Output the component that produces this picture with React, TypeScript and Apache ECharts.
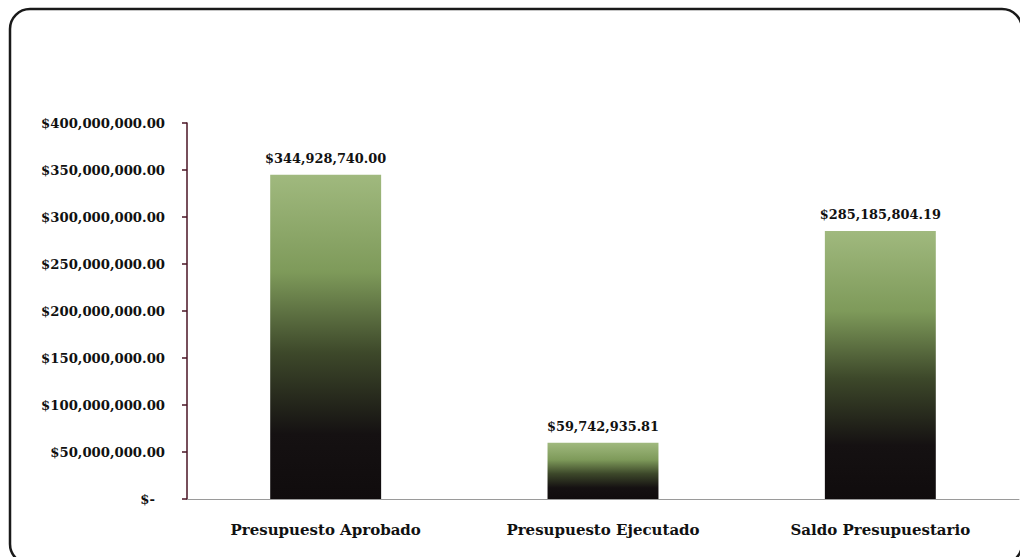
import React, { useEffect, useRef } from "react";
import * as echarts from "echarts";

const categories = ["Presupuesto Aprobado", "Presupuesto Ejecutado", "Saldo Presupuestario"];
const values = [344928740.0, 59742935.81, 285185804.19];
const yMin = 0;
const yMax = 400000000;
const yInterval = 50000000;

const FONT = "DejaVu Serif";

function money(v: number): string {
  return (
    "$" +
    v.toLocaleString("en-US", { minimumFractionDigits: 2, maximumFractionDigits: 2 })
  );
}

export default function App() {
  const ref = useRef<HTMLDivElement>(null);
  useEffect(() => {
    if (!ref.current) return;
    const chart = echarts.init(ref.current, undefined, { renderer: "svg" });
    const grad = new echarts.graphic.LinearGradient(0, 0, 0, 1, [
      { offset: 0, color: "#a0b97e" },
      { offset: 0.3, color: "#7e9a5a" },
      { offset: 0.55, color: "#3d482a" },
      { offset: 0.8, color: "#151112" },
      { offset: 1, color: "#100c0d" },
    ]);
    chart.setOption({
      animation: false,
      backgroundColor: "#ffffff",
      grid: { left: 187, right: 1, top: 123, bottom: 58, containLabel: false },
      graphic: [
        {
          type: "rect",
          shape: { x: 10, y: 9, width: 1012, height: 555, r: 20 },
          style: { fill: "none", stroke: "#1a1a1a", lineWidth: 2.5 },
          z: 100,
          silent: true,
        },
      ],
      xAxis: {
        type: "category",
        data: categories,
        axisLine: { lineStyle: { color: "#9a9a9a", width: 1 } },
        axisTick: { show: false },
        axisLabel: {
          margin: 23,
          fontFamily: FONT,
          fontWeight: "bold",
          fontSize: 15,
          color: "#111",
        },
      },
      yAxis: {
        type: "value",
        min: yMin,
        max: yMax,
        interval: yInterval,
        axisLine: { show: true, lineStyle: { color: "#4a1424", width: 1.5 } },
        axisTick: { show: true, length: 5, lineStyle: { color: "#4a1424", width: 1.5 } },
        splitLine: { show: false },
        axisLabel: {
          margin: 22,
          fontFamily: FONT,
          fontWeight: "bold",
          fontSize: 13.2,
          color: "#111",
          formatter: (v: number) => (v === 0 ? "{z|$-}" : money(v)),
          rich: {
            z: {
              fontFamily: FONT,
              fontWeight: "bold",
              fontSize: 13.2,
              color: "#111",
              padding: [0, 10, 0, 0],
            },
          },
        },
      },
      series: [
        {
          type: "bar",
          data: values,
          barWidth: "40%",
          itemStyle: { color: grad },
          label: {
            show: true,
            position: "top",
            distance: 10,
            fontFamily: FONT,
            fontWeight: "bold",
            fontSize: 12.9,
            color: "#111",
            formatter: (p: any) => money(p.value),
          },
        },
      ],
    });
    return () => chart.dispose();
  }, []);
  return (
    <div
      ref={ref}
      style={{ position: "fixed", left: 0, top: 0, width: 1020, height: 557 }}
    />
  );
}
